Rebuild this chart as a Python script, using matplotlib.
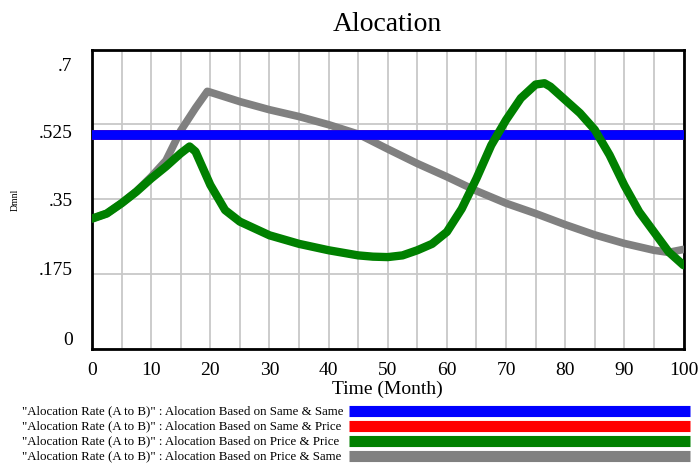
import numpy as np
import matplotlib
matplotlib.use("Agg")
import matplotlib.pyplot as plt
from matplotlib.lines import Line2D
from matplotlib.transforms import ScaledTranslation

plt.rcParams['font.family'] = ['Liberation Serif', 'DejaVu Serif']

# time (months) and series values
t_green = [0, 2.5, 5, 7.5, 10, 12.5, 15, 16.5, 17.5, 20, 22.5, 25, 30, 35, 40, 45, 47.5,
           50, 52.5, 55, 57.5, 60, 62.5, 65, 67.5, 70, 72.5, 75, 76.5, 77.5, 80, 82.5,
           85, 87.5, 90, 92.5, 95, 97.5, 100]
price_price = [0.304, 0.316, 0.34, 0.367, 0.398, 0.426, 0.457, 0.473, 0.461, 0.383, 0.324,
               0.297, 0.265, 0.245, 0.23, 0.218, 0.215, 0.214, 0.218, 0.23, 0.245, 0.273,
               0.327, 0.398, 0.476, 0.535, 0.586, 0.618, 0.621, 0.613, 0.582, 0.551, 0.512,
               0.453, 0.382, 0.32, 0.273, 0.226, 0.195]

t_gray = [0, 2.5, 5, 7.5, 10, 12.5, 15, 17.5, 19.5, 20, 25, 30, 35, 40, 45, 50, 55, 60,
          65, 70, 75, 80, 85, 90, 95, 97.5, 100]
price_same = [0.304, 0.316, 0.34, 0.368, 0.402, 0.44, 0.51, 0.563, 0.602, 0.60, 0.578,
              0.559, 0.543, 0.524, 0.502, 0.467, 0.433, 0.402, 0.369, 0.34, 0.316, 0.29,
              0.266, 0.246, 0.23, 0.225, 0.232]

t_flat = [0, 100]
same_same = [0.5, 0.5]
same_price = [0.5, 0.5]

labels = ['"Alocation Rate (A to B)" : Alocation Based on Same & Same',
          '"Alocation Rate (A to B)" : Alocation Based on Same & Price',
          '"Alocation Rate (A to B)" : Alocation Based on Price & Price',
          '"Alocation Rate (A to B)" : Alocation Based on Price & Same']
yticks = [0, 0.175, 0.35, 0.525, 0.7]
ytick_labels = ['0', '.175', '.35', '.525', '.7']
xticks = list(range(0, 101, 10))

fig = plt.figure(figsize=(6.99, 4.64), dpi=100)
ax = fig.add_axes([92 / 699, 1 - 349.5 / 464, 591.5 / 699, 299 / 464])

l4, = ax.plot(t_gray, price_same, color='#808080', lw=5.5, solid_capstyle='round',
              solid_joinstyle='round', zorder=3)
l2, = ax.plot(t_flat, same_price, color='red', lw=7, zorder=4)
l1, = ax.plot(t_flat, same_same, color='blue', lw=7, zorder=5)
l3, = ax.plot(t_green, price_price, color='green', lw=6, solid_capstyle='round',
              solid_joinstyle='round', zorder=6)

ax.set_xlim(0, 100)
ax.set_ylim(0, 0.7)
ax.set_xticks(xticks)
ax.set_xticks(range(0, 101, 5), minor=True)
ax.set_yticks(yticks)
ax.set_yticklabels(ytick_labels)
ax.grid(True, which='both', axis='x', color='#c8c8c8', lw=1.3)
ax.grid(True, which='major', axis='y', color='#c8c8c8', lw=1.3)
ax.tick_params(which='both', length=0, labelsize=14)
ax.tick_params(axis='y', pad=14)
ax.tick_params(axis='x', pad=9)
for sp in ax.spines.values():
    sp.set_color('black')
    sp.set_linewidth(2)

# vensim-style squeezed y labels
offsets = [11, 6, 0, -6, -14]
for lab, dy in zip(ax.get_yticklabels(), offsets):
    lab.set_transform(lab.get_transform() + ScaledTranslation(0, dy / 100, fig.dpi_scale_trans))

ax.set_title('Alocation', fontsize=20, pad=14)
ax.set_xlabel('Time (Month)', fontsize=14, labelpad=1)
fig.text(15 / 699, 1 - 200 / 464, 'Dmnl', rotation=90, fontsize=7, ha='center', va='center')

# legend block below the axes: text on the left, a thick colour bar on the right
rows_y = [411.5, 426.5, 441.5, 456.5]
for line, lab, yy in zip([l1, l2, l3, l4], labels, rows_y):
    fy = 1 - yy / 464
    fig.text(22 / 699, fy, lab, fontsize=9.3, ha='left', va='center')
    fig.add_artist(Line2D([349 / 699, 690 / 699], [fy, fy], color=line.get_color(),
                          lw=8, solid_capstyle='butt', transform=fig.transFigure))

fig.savefig('out.png', dpi=100)
